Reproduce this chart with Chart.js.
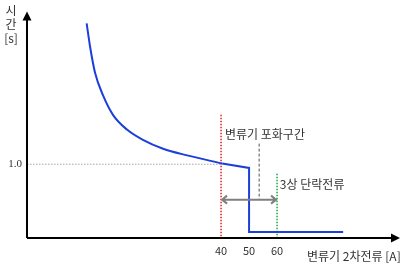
<!DOCTYPE html>
<html>
<head>
<meta charset="utf-8">
<script src="https://cdn.jsdelivr.net/npm/chart.js@4"></script>
<style>
  html, body { margin: 0; padding: 0; background: #fff; }
  #wrap { width: 410px; height: 270px; }
</style>
</head>
<body>
<div id="wrap"><canvas id="chart"></canvas></div>
<script>
// time-current curve of the CT (x: secondary current, y: time)
const curveX = [-8, -6.8, -5, -2.1, 1.4, 6.4, 12.1, 19.3, 27.9, 40.4];
const curveY = [2.91, 2.6, 2.24, 1.93, 1.67, 1.47, 1.33, 1.21, 1.12, 1.01];
// straight part after the curve: to 50 A, drop, then flat
const stepX = [40.4, 50, 50, 83.6];
const stepY = [1.01, 0.95, 0.08, 0.08];

const xTicks = [40, 50, 60];
const yTicks = [1.0];

const satStart = 40;     // red dotted: start of saturation
const faultCurrent = 60; // green dotted: 3-phase fault current
const midMark = 53.6;    // black dashed marker
const arrowY = 0.52;

const satLabel = "변류기 포화구간";
const faultLabel = "3상 단락전류";
const xTitle = "변류기 2차전류 [A]";
const yTitle = ["시", "간", "[s]"];

const FONT = "'Noto Sans CJK KR', 'Noto Sans', sans-serif";

const pts = (xs, ys) => xs.map((x, i) => ({ x, y: ys[i] }));

const extras = {
  id: 'extras',
  afterDraw(chart) {
    const { ctx, scales: { x, y }, chartArea: a } = chart;
    ctx.save();

    // axes with arrow heads
    ctx.strokeStyle = '#000';
    ctx.fillStyle = '#000';
    ctx.lineWidth = 2;
    ctx.beginPath();
    ctx.moveTo(a.left, a.bottom);
    ctx.lineTo(a.left, a.top + 6);
    ctx.moveTo(a.left, a.bottom);
    ctx.lineTo(a.right - 6, a.bottom);
    ctx.stroke();
    ctx.beginPath();
    ctx.moveTo(a.left, a.top);
    ctx.lineTo(a.left - 4.5, a.top + 9);
    ctx.lineTo(a.left + 4.5, a.top + 9);
    ctx.closePath();
    ctx.fill();
    ctx.beginPath();
    ctx.moveTo(a.right, a.bottom);
    ctx.lineTo(a.right - 9, a.bottom - 4.5);
    ctx.lineTo(a.right - 9, a.bottom + 4.5);
    ctx.closePath();
    ctx.fill();

    // double arrow between 40 and 60
    const x1 = x.getPixelForValue(satStart), x2 = x.getPixelForValue(faultCurrent);
    const ay = y.getPixelForValue(arrowY);
    ctx.strokeStyle = '#7f7f7f';
    ctx.lineWidth = 2;
    ctx.beginPath();
    ctx.moveTo(x1 + 1, ay);
    ctx.lineTo(x2 - 1, ay);
    ctx.moveTo(x1 + 6, ay - 4);
    ctx.lineTo(x1 + 1, ay);
    ctx.lineTo(x1 + 6, ay + 4);
    ctx.moveTo(x2 - 6, ay - 4);
    ctx.lineTo(x2 - 1, ay);
    ctx.lineTo(x2 - 6, ay + 4);
    ctx.stroke();

    // labels
    ctx.fillStyle = '#333';
    ctx.font = '12px ' + FONT;
    ctx.textBaseline = 'middle';
    ctx.textAlign = 'left';
    ctx.fillText(satLabel, x.getPixelForValue(41.4), y.getPixelForValue(1.4));
    ctx.fillText(faultLabel, x.getPixelForValue(61), y.getPixelForValue(0.73));
    ctx.fillText(xTitle, 307, 256);
    ctx.textAlign = 'center';
    yTitle.forEach((t, i) => ctx.fillText(t, 11, 10 + i * 14));
    ctx.restore();
  }
};

new Chart(document.getElementById('chart'), {
  type: 'line',
  data: {
    datasets: [
      { data: pts(curveX, curveY), borderColor: '#1c3fdc', borderWidth: 2, tension: 0.4, cubicInterpolationMode: 'monotone' },
      { data: pts(stepX, stepY), borderColor: '#1c3fdc', borderWidth: 2, tension: 0 },
      { data: pts([-29.3, satStart], [1, 1]), borderColor: '#a6a6a6', borderWidth: 1, borderDash: [1.5, 1.5] },
      { data: pts([satStart, satStart], [1.67, 0]), borderColor: '#e02020', borderWidth: 1.5, borderDash: [1.5, 1.5] },
      { data: pts([faultCurrent, faultCurrent], [0.87, 0]), borderColor: '#20a040', borderWidth: 1.5, borderDash: [1.5, 1.5] },
      { data: pts([midMark, midMark], [1.28, arrowY]), borderColor: '#555', borderWidth: 1, borderDash: [3, 2] }
    ]
  },
  options: {
    responsive: true,
    maintainAspectRatio: false,
    animation: false,
    elements: { point: { radius: 0 } },
    layout: { padding: { left: 0, top: 8, right: 10, bottom: 0 } },
    plugins: { legend: { display: false }, tooltip: { enabled: false } },
    scales: {
      x: {
        type: 'linear',
        min: -29.3,
        max: 103.9,
        grid: { display: false, drawTicks: false },
        border: { display: false },
        afterFit: s => { s.height = 32; },
        afterBuildTicks: s => { s.ticks = xTicks.map(v => ({ value: v })); },
        ticks: { padding: 6, color: '#333', font: { size: 11, family: FONT } }
      },
      y: {
        type: 'linear',
        min: 0,
        max: 3.07,
        grid: { display: false, drawTicks: false },
        border: { display: false },
        afterFit: s => { s.width = 27; },
        afterBuildTicks: s => { s.ticks = yTicks.map(v => ({ value: v })); },
        ticks: { padding: 5, color: '#333', callback: v => v.toFixed(1), font: { size: 11, family: "'Liberation Serif', serif" } }
      }
    }
  },
  plugins: [extras]
});
</script>
</body>
</html>
